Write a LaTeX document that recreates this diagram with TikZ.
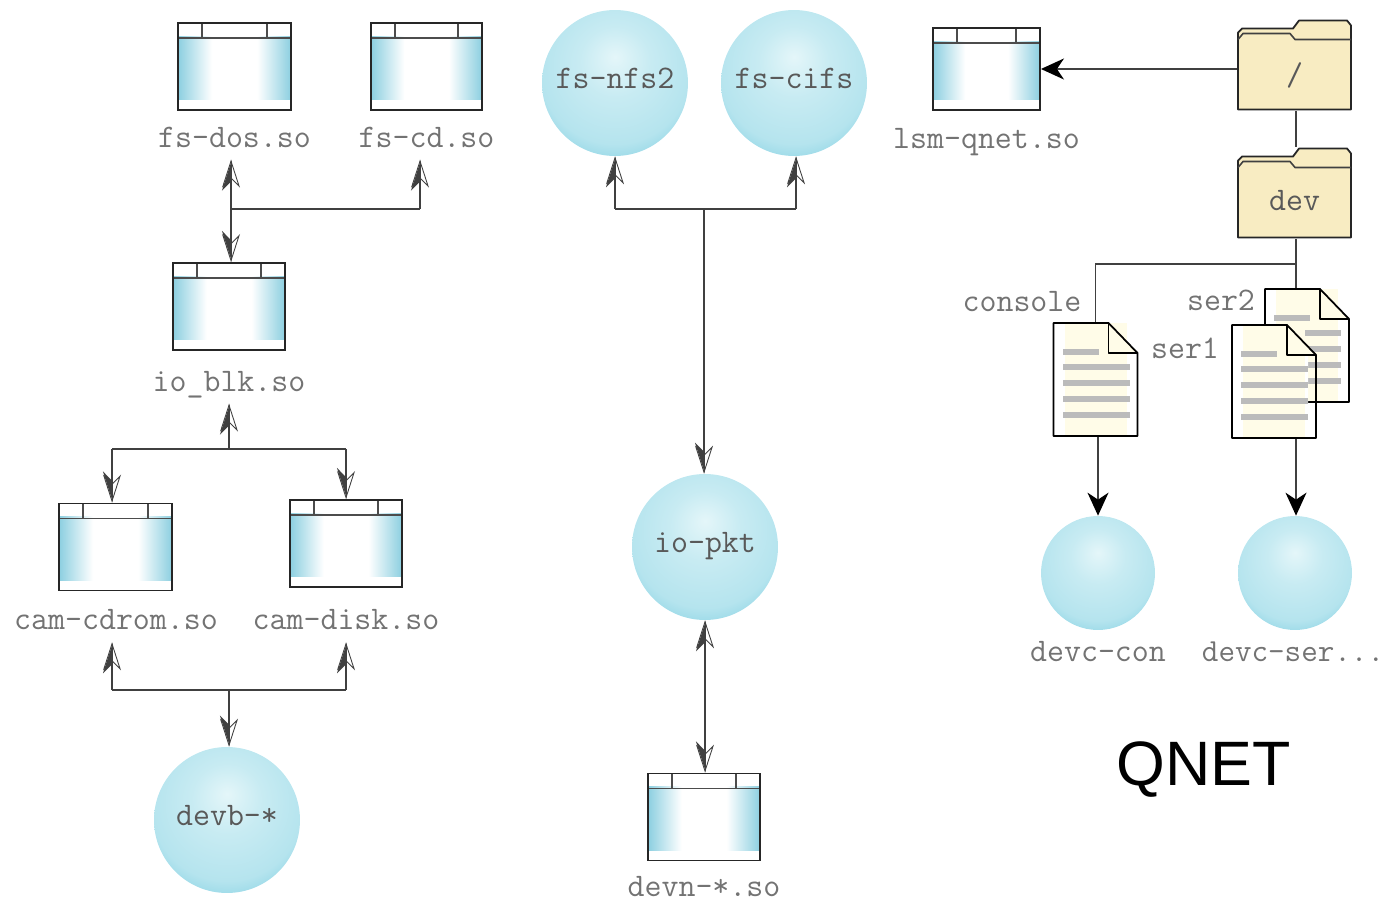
\documentclass[tikz,border=0pt]{standalone}
\usepackage{xcolor}
\usepackage{fontspec}
\setsansfont{Liberation Sans}
\usetikzlibrary{arrows.meta, positioning}

\definecolor{glassTeal}{HTML}{8CCFE0}
\definecolor{bubbleEdge}{HTML}{8FD5E5}
\definecolor{bubbleMid}{HTML}{B5E4EE}
\definecolor{bubbleCore}{HTML}{E4F6F9}
\definecolor{folderFill}{HTML}{F8ECC2}
\definecolor{docCream}{HTML}{FFFCE8}
\definecolor{docLine}{HTML}{BBBBBB}

\pgfdeclarehorizontalshading{windowglass}{100bp}{color(0bp)=(glassTeal); color(25bp)=(glassTeal); color(40bp)=(white); color(60bp)=(white); color(75bp)=(glassTeal); color(100bp)=(glassTeal)}
\pgfdeclareradialshading{bubble}{\pgfpoint{0bp}{9bp}}{color(0bp)=(bubbleCore); color(12bp)=(bubbleMid!60!bubbleCore); color(26bp)=(bubbleMid); color(33bp)=(bubbleEdge); color(60bp)=(bubbleEdge)}

\begin{document}
\begin{tikzpicture}[
      x=0.02cm, y=-0.02cm,
      window/.style={
        rectangle,
        draw=black!85,
        line width=1.1pt,
        inner sep=0pt,
        minimum width=#1,
        minimum height=1.74cm,
        path picture={
          \shade[shading=windowglass] ([yshift=-0.26cm]path picture bounding box.north west) rectangle ([yshift=0.2cm]path picture bounding box.south east);
          \draw[draw=black!70, line width=1pt] ([yshift=-0.3cm]path picture bounding box.north west) -- ([yshift=-0.3cm]path picture bounding box.north east);
          \draw[draw=black!70, line width=0.8pt] ([xshift=0.48cm]path picture bounding box.north west) -- ([xshift=0.48cm,yshift=-0.3cm]path picture bounding box.north west);
          \draw[draw=black!70, line width=0.8pt] ([xshift=-0.48cm]path picture bounding box.north east) -- ([xshift=-0.48cm,yshift=-0.3cm]path picture bounding box.north east);
        }
      },
      window/.default=2.26cm,
      bubble/.style={
        circle,
        shade,
        shading=bubble,
        inner sep=0pt,
        minimum size=#1,
        text=black!65,
        text height=0.38cm,
        text depth=0.16cm,
        font=\ttfamily\fontsize{18.75}{20}\selectfont
      },
      bubble/.default=2.92cm,
      filelabel/.style={
        text=black!55,
        inner sep=0pt,
        minimum height=0.88cm,
        text height=0.41cm,
        text depth=0.02cm,
        font=\ttfamily\fontsize{18.75}{20}\selectfont
      },
      folder/.style={
        rectangle,
        inner sep=0pt,
        minimum width=2.3cm,
        minimum height=1.82cm,
        text=black!65,
        font=\ttfamily\fontsize{18.75}{20}\selectfont,
        path picture={
          \coordinate (corner) at (path picture bounding box.north west);
          \draw[fill=folderFill, draw=black!85, line width=1pt, line join=round] (corner) +(1,90) -- +(1,13) -- +(5,9) -- +(56,9) -- +(62,1) -- +(110,1) -- +(114,6) -- +(114,90) -- cycle;
          \draw[draw=black!75, line width=0.9pt, line join=round] (corner) +(1,20) -- +(6,14) -- +(53,14) -- +(58,20) -- +(114,20);
        }
      },
      document/.style={
        rectangle,
        inner sep=0pt,
        minimum width=1.72cm,
        minimum height=2.3cm,
        path picture={
          \coordinate (corner) at (path picture bounding box.north west);
          \fill[white] (corner) +(1,1) -- +(56,1) -- +(77,22) -- +(77,114) -- +(1,114) -- cycle;
          \fill[docCream] (corner) +(12,1) rectangle +(74,114);
          \fill[docLine] (corner) +(10,27) rectangle +(46,33);
          \foreach \lineY in {42,58,74,90} {
            \fill[docLine] (corner) +(10,\lineY) rectangle +(77,\lineY+6);
          }
          \fill[docCream] (corner) +(56,1) -- +(85,31) -- +(56,31) -- cycle;
          \draw[draw=black, line width=1pt, line join=round] (corner) +(1,1) -- +(56,1) -- +(85,31) -- +(85,114) -- +(1,114) -- cycle;
          \draw[draw=black, line width=1pt, line join=round] (corner) +(56,1) -- +(56,31) -- +(85,31);
        }
      },
      halfhead/.tip={Stealth[harpoon, length=0.56cm, width=0.36cm, inset=0.18cm, sep=-0.56cm]Stealth[open, length=0.56cm, width=0.36cm, inset=0.18cm, line width=0.5pt]},
      halfheadswap/.tip={Stealth[harpoon, swap, length=0.56cm, width=0.36cm, inset=0.18cm, sep=-0.56cm]Stealth[open, length=0.56cm, width=0.36cm, inset=0.18cm, line width=0.5pt]},
      link/.style={
        draw=black!75,
        line width=1.1pt
      },
      upArrow/.style={link, -{halfhead}},
      downArrow/.style={link, -{halfheadswap}},
      solidArrow/.style={
        draw=black!75,
        line width=0.9pt,
        -{Stealth[length=0.46cm, width=0.42cm, inset=0.14cm, black]}
      }
    ]
    \useasboundingbox (0,0) rectangle (1382,898);

    % Left column nodes
    \node (fsDos) [window] at (234.5,66.5) {};
    \node (fsDosLabel) [filelabel, below=0.08cm of fsDos] {fs-dos.so};
    \node (fsCd) [window=2.22cm] at (426.5,66.5) {};
    \node (fsCdLabel) [filelabel, below=0.08cm of fsCd] {fs-cd.so};
    \node (ioBlk) [window=2.24cm] at (229,306.5) {};
    \node (ioBlkLabel) [filelabel, below=0.16cm of ioBlk] {io\_blk.so};
    \node (camCdrom) [window] at (115.5,547) {};
    \node (camCdromLabel) [filelabel] at (116,620) {cam-cdrom.so};
    \node (camDisk) [window=2.24cm] at (346,543.5) {};
    \node (camDiskLabel) [filelabel] at (346,620) {cam-disk.so};
    \node (devb) [bubble] at (227,820) {devb-*};

    % Middle column nodes
    \node (fsNfs) [bubble] at (615,83) {fs-nfs2};
    \node (fsCifs) [bubble] at (794,83) {fs-cifs};
    \node (ioPkt) [bubble] at (705,547) {io-pkt};
    \node (devn) [window=2.24cm] at (704,817) {};
    \node (devnLabel) [filelabel, below=0.06cm of devn] {devn-*.so};

    % Right column nodes
    \node (lsmQnet) [window=2.14cm, minimum height=1.64cm] at (986.5,69) {};
    \node (lsmQnetLabel) [filelabel, below=0.1cm of lsmQnet] {lsm-qnet.so};
    \node (rootDir) [folder] at (1294.5,65) {\raisebox{-0.42cm}[0pt][0pt]{/}};
    \node (devDir) [folder] at (1294.5,193) {\raisebox{-0.36cm}[0pt][0pt]{dev}};
    \node (ser2) [document] at (1307,345.5) {};
    \node (ser2Label) [filelabel] at (1221,301) {ser2};
    \node (ser1) [document] at (1274,381.5) {};
    \node (ser1Label) [filelabel] at (1185,349) {ser1};
    \node (console) [document] at (1095.5,379.5) {};
    \node (consoleLabel) [filelabel] at (1022,302) {console};
    \node (devcCon) [bubble=2.28cm] at (1098,573) {};
    \node (devcConLabel) [filelabel] at (1098,652) {devc-con};
    \node (devcSer) [bubble=2.28cm] at (1295,573) {};
    \node (devcSerLabel) [filelabel, font=\ttfamily\fontsize{18.3}{20}\selectfont] at (1293,652) {devc-ser...};
    \node (qnetTitle) [inner sep=0pt, font=\sffamily\fontsize{35.7}{40}\selectfont] at (1204,770) {QNET};

    % Junctions
    \coordinate (blkJoin) at (231,209);
    \coordinate (cdJoin) at (420,209);
    \coordinate (camTopJoin) at (229,449);
    \coordinate (camLeftTop) at (112,449);
    \coordinate (camRightTop) at (346,449);
    \coordinate (camBottomJoin) at (229,690);
    \coordinate (camLeftBottom) at (112,690);
    \coordinate (camRightBottom) at (346,690);
    \coordinate (fsJoin) at (704,209);
    \coordinate (nfsJoin) at (615,209);
    \coordinate (cifsJoin) at (796,209);
    \coordinate (devBranch) at (1296,264);

    % Arrows for left column
    \draw [upArrow] (blkJoin) -- (blkJoin |- fsDosLabel.south);
    \draw [downArrow] (blkJoin) -- (blkJoin |- ioBlk.north);
    \draw [link] (blkJoin) -- (cdJoin);
    \draw [upArrow] (cdJoin) -- (cdJoin |- fsCdLabel.south);
    \draw [upArrow] (camTopJoin) -- (camTopJoin |- ioBlkLabel.south);
    \draw [link] (camLeftTop) -- (camRightTop);
    \draw [downArrow] (camLeftTop) -- (camLeftTop |- camCdrom.north);
    \draw [downArrow] (camRightTop) -- (camRightTop |- camDisk.north);
    \draw [link] (camLeftBottom) -- (camRightBottom);
    \draw [upArrow] (camLeftBottom) -- (camLeftBottom |- camCdromLabel.south);
    \draw [upArrow] (camRightBottom) -- (camRightBottom |- camDiskLabel.south);
    \draw [downArrow] (camBottomJoin) -- (camBottomJoin |- devb.north);

    % Arrows for middle column
    \draw [link] (nfsJoin) -- (cifsJoin);
    \draw [upArrow] (nfsJoin) -- (nfsJoin |- fsNfs.south);
    \draw [upArrow] (cifsJoin) -- (cifsJoin |- fsCifs.south);
    \draw [downArrow] (fsJoin) -- (fsJoin |- ioPkt.north);
    \draw [link, {halfhead}-{halfheadswap}] (ioPkt.south) -- (ioPkt.south |- devn.north);

    % Arrows for right column
    \draw [solidArrow] (rootDir.west |- lsmQnet.east) -- (lsmQnet.east);
    \draw [link, line width=0.9pt] (devBranch |- rootDir.south) -- (devBranch |- devDir.north);
    \draw [link, line width=0.9pt] (devBranch |- devDir.south) -- (devBranch |- ser2.north);
    \draw [link, line width=0.9pt] (console.north) |- (devBranch);
    \draw [solidArrow] (devcCon.north |- console.south) -- (devcCon.north);
    \draw [solidArrow] (devBranch |- ser1.south) -- (devBranch |- devcSer.north);

\end{tikzpicture}
\end{document}
